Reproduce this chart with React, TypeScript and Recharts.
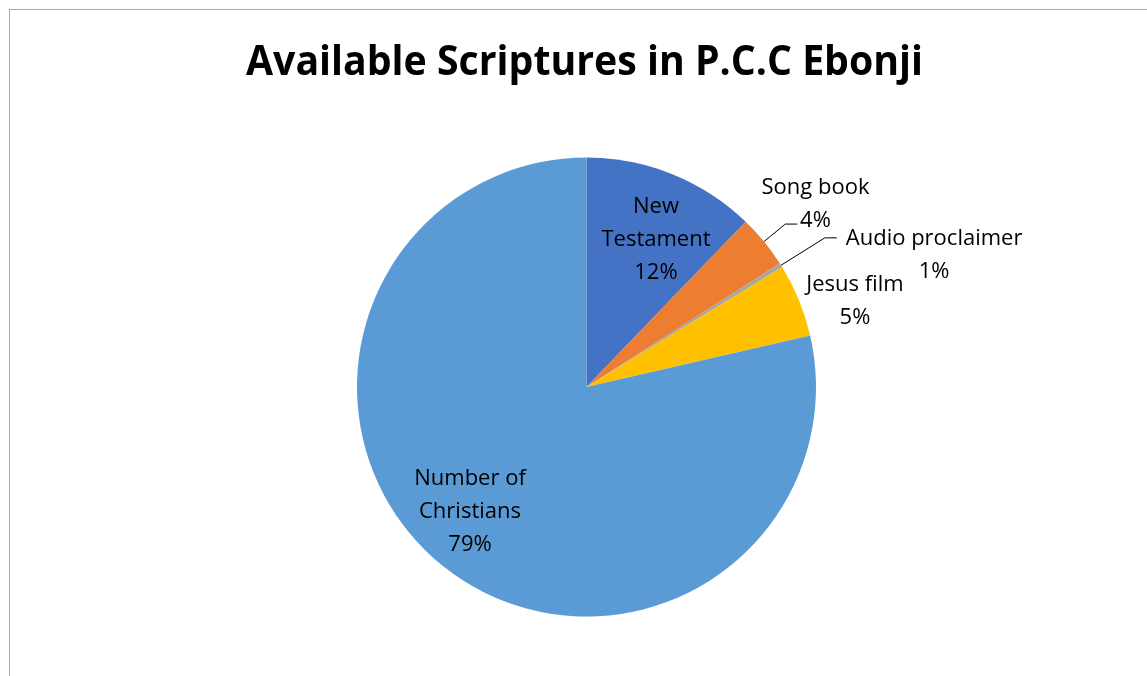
import React from "react";
import { PieChart, Pie, Cell } from "recharts";

const categories = ["New Testament", "Song book", "Audio proclaimer", "Jesus film", "Number of Christians"];
const values = [12.2, 3.75, 0.3, 5.15, 78.6];
const percentLabels = ["12%", "4%", "1%", "5%", "79%"];
const colors = ["#4472C4", "#ED7D31", "#A5A5A5", "#FFC000", "#5B9BD5"];

// label layout: radial factor, clockwise angle offset (deg), wrap, leader line elbow factor
const labelLayout = [
  { r: 0.72, dA: 2.9, wrap: true, leader: 0 },
  { r: 1.284, dA: 0.32, wrap: false, leader: 1.12 },
  { r: 1.624, dA: 10.9, wrap: false, leader: 1.225 },
  { r: 1.231, dA: 4.08, wrap: false, leader: 0 },
  { r: 0.735, dA: 5.16, wrap: true, leader: 0 },
];

const data = categories.map((name, i) => ({ name, value: values[i] }));

const RADIAN = Math.PI / 180;
const W = 1131;
const H = 650;
const CX = 578.5;
const CY = 379;
const R = 229.5;
const LINE_H = 33;
const FONT = "'Open Sans', 'Noto Sans', sans-serif";

const polar = (cx: number, cy: number, r: number, a: number) => ({
  x: cx + r * Math.cos(-a * RADIAN),
  y: cy + r * Math.sin(-a * RADIAN),
});

const renderLabel = (props: any) => {
  const { cx, cy, midAngle, outerRadius, index } = props;
  const cfg = labelLayout[index];
  const name = categories[index];
  let lines: string[];
  if (cfg.wrap) {
    const k = name.lastIndexOf(" ");
    lines = [name.slice(0, k), name.slice(k + 1)];
  } else {
    lines = [name];
  }
  lines.push(percentLabels[index]);
  const p = polar(cx, cy, outerRadius * cfg.r, midAngle - cfg.dA);
  const n = lines.length;
  let leader: React.ReactNode = null;
  if (cfg.leader) {
    const a = polar(cx, cy, outerRadius, midAngle);
    const b = polar(cx, cy, outerRadius * cfg.leader, midAngle);
    leader = (
      <polyline
        points={`${a.x},${a.y} ${b.x},${b.y} ${b.x + 12},${b.y}`}
        fill="none"
        stroke="#000"
        strokeWidth={1}
      />
    );
  }
  return (
    <g key={`lbl-${index}`}>
      {leader}
      <text
        x={p.x}
        y={p.y}
        textAnchor="middle"
        fontFamily={FONT}
        fontSize={22}
        fill="#000"
      >
        {lines.map((ln, i) => (
          <tspan
            key={i}
            x={p.x}
            y={p.y + (i - (n - 1) / 2) * LINE_H}
            dominantBaseline="central"
          >
            {ln}
          </tspan>
        ))}
      </text>
    </g>
  );
};

export default function App() {
  return (
    <div style={{ position: "relative", width: W, height: H }}>
      <div
        style={{
          position: "fixed",
          left: 9,
          top: 9,
          right: 0,
          bottom: 0,
          borderLeft: "1px solid #a9a9a9",
          borderTop: "1px solid #a9a9a9",
          pointerEvents: "none",
        }}
      />
      <PieChart width={W} height={H} margin={{ top: 0, right: 0, bottom: 0, left: 0 }}>
        <text
          x={576.5}
          y={66.5}
          textAnchor="middle"
          fontFamily={FONT}
          fontWeight={700}
          fontSize={42}
          fill="#000"
          textLength={677}
          lengthAdjust="spacingAndGlyphs"
        >
          Available Scriptures in P.C.C Ebonji
        </text>
        <Pie
          data={data}
          dataKey="value"
          nameKey="name"
          cx={CX}
          cy={CY}
          outerRadius={R}
          startAngle={90}
          endAngle={-270}
          stroke="none"
          label={renderLabel}
          labelLine={false}
          isAnimationActive={false}
        >
          {data.map((d, i) => (
            <Cell key={d.name} fill={colors[i]} stroke="none" />
          ))}
        </Pie>
      </PieChart>
    </div>
  );
}
